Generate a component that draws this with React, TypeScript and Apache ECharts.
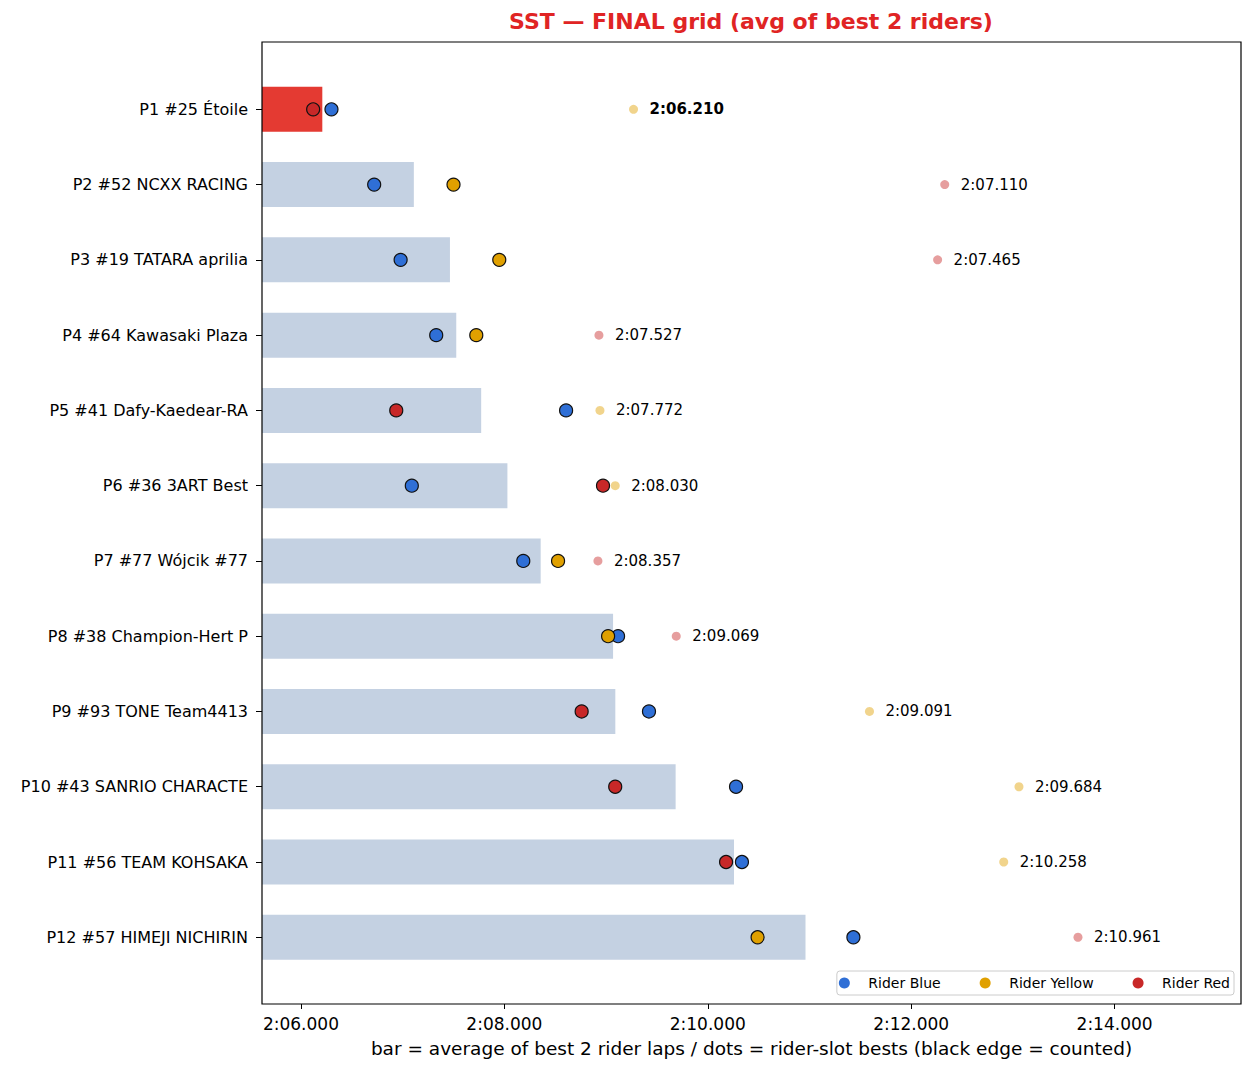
import React, { useEffect, useRef } from "react";
import * as echarts from "echarts";

const categories = [
  "P1 #25 Étoile",
  "P2 #52 NCXX RACING",
  "P3 #19 TATARA aprilia",
  "P4 #64 Kawasaki Plaza",
  "P5 #41 Dafy-Kaedear-RA",
  "P6 #36 3ART Best",
  "P7 #77 Wójcik #77",
  "P8 #38 Champion-Hert P",
  "P9 #93 TONE Team4413",
  "P10 #43 SANRIO CHARACTE",
  "P11 #56 TEAM KOHSAKA",
  "P12 #57 HIMEJI NICHIRIN",
];

// average of best 2 rider laps (seconds)
const avgTimes = [126.21, 127.11, 127.465, 127.527, 127.772, 128.03, 128.357, 129.069, 129.091, 129.684, 130.258, 130.961];

// rider-slot bests (seconds)
const blueTimes = [126.3, 126.72, 126.98, 127.33, 128.607, 127.09, 128.186, 129.118, 129.422, 130.278, 130.336, 131.432];
const yellowTimes = [129.27, 127.5, 127.95, 127.724, 128.94, 129.09, 128.528, 129.02, 131.59, 133.06, 132.91, 130.49];
const redTimes = [126.12, 132.33, 132.26, 128.93, 126.937, 128.97, 128.92, 129.69, 128.76, 129.09, 130.18, 133.64];

const tickValues = [126, 128, 130, 132, 134];
const xMin = 125.617;
const xMax = 135.243;

const riderNames = ["Rider Blue", "Rider Yellow", "Rider Red"];
const riderColors = ["#2f6fd6", "#e0a000", "#c82828"];
const riderFaded = ["rgba(47,111,214,0.45)", "rgba(224,160,0,0.45)", "rgba(200,40,40,0.45)"];

const FONT = "DejaVu Sans";

function fmtLap(v: number): string {
  const m = Math.floor(v / 60);
  const s = v - m * 60;
  const ss = s.toFixed(3);
  return `${m}:${s < 10 ? "0" + ss : ss}`;
}

export default function App() {
  const ref = useRef<HTMLDivElement>(null);
  useEffect(() => {
    if (!ref.current) return;
    const chart = echarts.init(ref.current, null, { renderer: "svg" });
    const riderTimes = [blueTimes, yellowTimes, redTimes];

    const series: any[] = [];
    series.push({
      type: "bar",
      name: "avg",
      barWidth: 45,
      data: avgTimes.map((v, i) => ({
        value: v,
        itemStyle: { color: i === 0 ? "#e43a32" : "#c4d1e2" },
      })),
      z: 1,
    });

    // uncounted (slowest of the three) - faded, with the avg label
    riderTimes.forEach((times, r) => {
      const data: any[] = [];
      times.forEach((t, i) => {
        const maxT = Math.max(blueTimes[i], yellowTimes[i], redTimes[i]);
        if (t === maxT) {
          data.push({
            value: [t, categories[i]],
            avg: avgTimes[i],
            label: i === 0 ? { fontWeight: "bold" } : undefined,
          });
        }
      });
      series.push({
        type: "scatter",
        name: riderNames[r] + " (not counted)",
        symbol: "circle",
        symbolSize: 9,
        itemStyle: { color: riderFaded[r], borderWidth: 0, opacity: 1 },
        label: {
          show: true,
          position: "right",
          distance: 11.5,
          fontSize: 15,
          color: "#000",
          fontFamily: FONT,
          formatter: (p: any) => fmtLap(p.data.avg),
        },
        data,
        z: 2,
      });
    });

    // counted riders - black edge
    riderTimes.forEach((times, r) => {
      const data: any[] = [];
      times.forEach((t, i) => {
        const maxT = Math.max(blueTimes[i], yellowTimes[i], redTimes[i]);
        if (t !== maxT) data.push([t, categories[i]]);
      });
      series.push({
        type: "scatter",
        name: riderNames[r],
        symbol: "circle",
        symbolSize: 13,
        itemStyle: { color: riderColors[r], borderColor: "#111", borderWidth: 1.2, opacity: 1 },
        data,
        z: 3,
      });
    });

    chart.setOption({
      animation: false,
      backgroundColor: "#fff",
      textStyle: { fontFamily: FONT },
      title: {
        text: "SST — FINAL grid (avg of best 2 riders)",
        left: 751,
        top: 10,
        padding: 0,
        textAlign: "center",
        textStyle: { fontSize: 22, fontWeight: "bold", color: "#e02424", fontFamily: FONT },
      },
      grid: { left: 262, right: 12, top: 71.7, bottom: 98.1 },
      xAxis: {
        type: "value",
        min: xMin,
        max: xMax,
        offset: 29.1,
        axisLine: { show: false },
        splitLine: { show: false },
        axisTick: {
          show: true,
          length: 5,
          customValues: tickValues,
          lineStyle: { color: "#000", width: 1 },
        },
        axisLabel: {
          customValues: tickValues,
          fontSize: 17,
          color: "#000",
          margin: 11,
          fontFamily: FONT,
          formatter: (v: number) => fmtLap(v),
        },
        name: "bar = average of best 2 rider laps / dots = rider-slot bests (black edge = counted)",
        nameLocation: "middle",
        nameGap: 35,
        nameTextStyle: { fontSize: 18.5, color: "#000", fontFamily: FONT },
      },
      yAxis: {
        type: "category",
        data: categories,
        inverse: true,
        axisLine: { show: false },
        axisTick: { show: true, alignWithLabel: true, length: 6, lineStyle: { color: "#000" } },
        axisLabel: { fontSize: 16, color: "#000", margin: 14, fontFamily: FONT },
        splitLine: { show: false },
      },
      legend: {
        data: riderNames,
        right: 19,
        top: 971,
        orient: "horizontal",
        icon: "circle",
        itemWidth: 38,
        itemHeight: 11,
        itemGap: 39,
        padding: [5, 4, 5, 2],
        borderColor: "#cccccc",
        borderWidth: 1,
        borderRadius: 3,
        backgroundColor: "#fff",
        itemStyle: { borderWidth: 0 },
        textStyle: { fontSize: 14, color: "#000", fontFamily: FONT },
      },
      graphic: [
        {
          type: "rect",
          z: 100,
          silent: true,
          shape: { x: 262, y: 42, width: 979, height: 962 },
          style: { fill: "none", stroke: "#000", lineWidth: 1.2 },
        },
      ],
      series,
    });
    return () => chart.dispose();
  }, []);
  return (
    <div
      ref={ref}
      style={{ position: "fixed", left: 0, top: 0, width: 1253, height: 1073 }}
    />
  );
}
